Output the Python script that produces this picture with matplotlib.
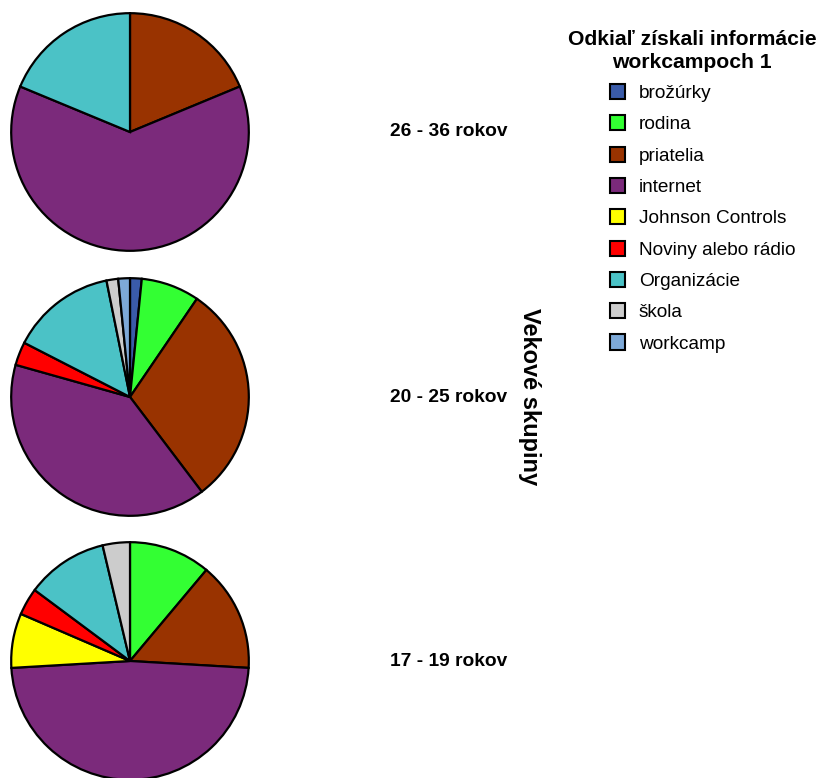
import matplotlib.pyplot as plt
from matplotlib.patches import Patch

plt.rcParams['font.family'] = ['Liberation Sans', 'DejaVu Sans']

# ====================
# data
# ====================
categories = ["brožúrky", "rodina", "priatelia", "internet", "Johnson Controls",
              "Noviny alebo rádio", "Organizácie", "škola", "workcamp"]
colors = ["#3A5BA9", "#33FF33", "#993300", "#7B2A7B", "#FFFF00",
          "#FF0000", "#4BC2C6", "#CCCCCC", "#7DA9D8"]

groups = ["26 - 36 rokov", "20 - 25 rokov", "17 - 19 rokov"]
counts_26_36 = [0, 0, 3, 10, 0, 0, 3, 0, 0]
counts_20_25 = [1, 5, 19, 25, 0, 2, 9, 1, 1]
counts_17_19 = [0, 3, 4, 13, 2, 1, 3, 1, 0]
all_counts = [counts_26_36, counts_20_25, counts_17_19]

W, H = 823, 778
fig = plt.figure(figsize=(W / 100, H / 100), dpi=100)

centers_y = [132, 397, 661]
radius = 120
cx = 130

for group, counts, cy in zip(groups, all_counts, centers_y):
    ax = fig.add_axes([(cx - radius) / W, (H - cy - radius) / H,
                       2 * radius / W, 2 * radius / H])
    vals = [v for v in counts if v > 0]
    cols = [c for v, c in zip(counts, colors) if v > 0]
    ax.pie(vals, colors=cols, startangle=90, counterclock=False, radius=1,
           wedgeprops=dict(edgecolor='black', linewidth=1.6))
    ax.set_xlim(-1.01, 1.01)
    ax.set_ylim(-1.01, 1.01)
    ax.set_aspect('equal')
    ax.axis('off')
    fig.text(449 / W, 1 - cy / H, group, ha='center', va='center',
             fontsize=13.8, fontweight='bold')

fig.text(530 / W, 1 - 397 / H, "Vekové skupiny", rotation=-90,
         ha='center', va='center', fontsize=17, fontweight='bold')

fig.text(692 / W, 1 - 51 / H, "Odkiaľ získali informácie\nworkcampoch 1",
         ha='center', va='center', fontsize=15.2, fontweight='bold',
         linespacing=1.3)

handles = [Patch(facecolor=c, edgecolor='black', linewidth=1.5) for c in colors]
fig.legend(handles, categories, loc='upper left',
           bbox_to_anchor=(610 / W, 1 - 84 / H), frameon=False,
           fontsize=13.7, handlelength=0.8, handleheight=0.85,
           handletextpad=0.72, labelspacing=0.69, borderpad=0, borderaxespad=0)

fig.savefig("out.png", dpi=100, facecolor='white')
